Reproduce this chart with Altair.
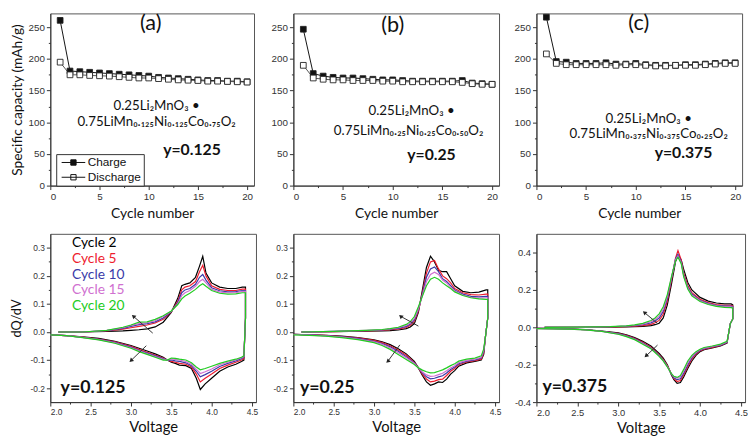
import altair as alt
import pandas as pd

FONT = "Lato"
TICKFONT = "Liberation Sans"

# ---------------- top row: capacity vs cycle ----------------
cycles = list(range(1, 21))
a_charge = [261, 181, 180, 179, 178, 177, 176, 175, 174, 173, 171, 170, 169, 168, 167, 166, 166, 165, 165, 164]
a_discharge = [195, 175, 175, 174, 173.5, 173, 172, 171, 170, 170, 169, 168, 167, 166.5, 166, 165, 165, 164.5, 164, 163.5]
b_charge = [247, 177, 173, 171, 170, 170, 169, 168, 167, 167, 166, 165, 165, 165, 165, 165, 166, 162, 161, 160]
b_discharge = [190, 170, 168, 167, 167, 166, 166, 166, 165, 165, 164, 164, 164, 164, 164, 164, 163, 161, 160, 160]
c_charge = [266, 196, 195, 193, 193, 193, 194, 192, 192, 193, 191, 190, 190, 190, 191, 191, 192, 193, 194, 194]
c_discharge = [208, 193, 191, 191, 191, 191, 191, 190, 191, 191, 190, 189, 189, 190, 190, 190, 191, 192, 193, 193]
series_names = ["Charge", "Discharge"]
series_line_colors = ["#111111", "#555555"]
series_fill_colors = ["#111111", "#ffffff"]

formula_1 = "0.25Li₂MnO₃ •"
formula_a = "0.75LiMn₀.₁₂₅Ni₀.₁₂₅Co₀.₇₅O₂"
formula_b = "0.75LiMn₀.₂₅Ni₀.₂₅Co₀.₅₀O₂"
formula_c = "0.75LiMn₀.₃₇₅Ni₀.₃₇₅Co₀.₂₅O₂"

top_x_major = [0, 5, 10, 15, 20]
top_x_minor = [2.5, 7.5, 12.5, 17.5]
top_y_major = [0, 50, 100, 150, 200, 250]
top_y_minor = [25, 75, 125, 175, 225]

# ---------------- bottom row: dQ/dV vs voltage ----------------
cycle_names = ["Cycle 2", "Cycle 5", "Cycle 10", "Cycle 15", "Cycle 20"]
cycle_colors = ["#000000", "#ee1c2e", "#3a3aa8", "#d070d0", "#22cc22"]

v_major = [2.0, 2.5, 3.0, 3.5, 4.0, 4.5]
v_minor = [2.25, 2.75, 3.25, 3.75, 4.25]
de_y_major = [-0.2, -0.1, 0.0, 0.1, 0.2, 0.3]
de_y_minor = [-0.15, -0.05, 0.05, 0.15, 0.25]
f_y_major = [-0.4, -0.2, 0.0, 0.2, 0.4]
f_y_minor = [-0.3, -0.1, 0.1, 0.3]

d_chg_v = [2.1, 2.4, 2.7, 2.9, 3.0, 3.1, 3.2, 3.3, 3.4, 3.5, 3.58, 3.63, 3.67, 3.73, 3.8, 3.85, 3.89, 3.93, 4.0, 4.1, 4.2, 4.3, 4.38, 4.42, 4.42]
d_chg = {
    "Cycle 2": [0, 0, 0.002, 0.004, 0.006, 0.008, 0.011, 0.018, 0.035, 0.07, 0.12, 0.165, 0.17, 0.175, 0.195, 0.235, 0.27, 0.21, 0.175, 0.16, 0.155, 0.155, 0.16, 0.16, 0.05],
    "Cycle 5": [0, 0, 0.004, 0.01, 0.015, 0.02, 0.025, 0.032, 0.045, 0.072, 0.11, 0.15, 0.16, 0.165, 0.18, 0.215, 0.238, 0.2, 0.165, 0.152, 0.148, 0.148, 0.153, 0.153, 0.05],
    "Cycle 10": [0, 0, 0.005, 0.013, 0.02, 0.026, 0.03, 0.036, 0.05, 0.073, 0.105, 0.14, 0.15, 0.155, 0.17, 0.195, 0.205, 0.185, 0.158, 0.147, 0.143, 0.144, 0.148, 0.148, 0.05],
    "Cycle 15": [0, 0, 0.006, 0.015, 0.023, 0.03, 0.033, 0.04, 0.055, 0.074, 0.1, 0.13, 0.14, 0.148, 0.163, 0.18, 0.188, 0.175, 0.152, 0.142, 0.14, 0.14, 0.145, 0.145, 0.05],
    "Cycle 20": [0, 0, 0.006, 0.017, 0.025, 0.035, 0.036, 0.045, 0.058, 0.075, 0.098, 0.118, 0.128, 0.138, 0.152, 0.165, 0.172, 0.163, 0.148, 0.138, 0.135, 0.136, 0.14, 0.14, 0.05],
}
d_dis_v = [4.41, 4.40, 4.37, 4.3, 4.2, 4.1, 4.0, 3.92, 3.86, 3.81, 3.75, 3.68, 3.6, 3.55, 3.5, 3.45, 3.4, 3.3, 3.2, 3.1, 3.0, 2.8, 2.6, 2.4, 2.2, 2.0]
d_dis = {
    "Cycle 2": [-0.02, -0.1, -0.105, -0.115, -0.125, -0.14, -0.165, -0.185, -0.205, -0.165, -0.13, -0.12, -0.118, -0.112, -0.108, -0.1, -0.09, -0.078, -0.068, -0.058, -0.048, -0.033, -0.023, -0.017, -0.013, -0.01],
    "Cycle 5": [-0.02, -0.095, -0.1, -0.108, -0.118, -0.13, -0.15, -0.165, -0.178, -0.15, -0.125, -0.115, -0.112, -0.108, -0.105, -0.1, -0.093, -0.082, -0.072, -0.062, -0.051, -0.035, -0.025, -0.018, -0.013, -0.01],
    "Cycle 10": [-0.02, -0.09, -0.095, -0.103, -0.112, -0.123, -0.14, -0.152, -0.16, -0.14, -0.12, -0.11, -0.105, -0.103, -0.1, -0.1, -0.095, -0.085, -0.075, -0.065, -0.054, -0.037, -0.026, -0.019, -0.013, -0.01],
    "Cycle 15": [-0.02, -0.088, -0.092, -0.1, -0.108, -0.117, -0.132, -0.142, -0.148, -0.133, -0.115, -0.105, -0.1, -0.098, -0.096, -0.1, -0.097, -0.088, -0.078, -0.067, -0.056, -0.039, -0.027, -0.019, -0.013, -0.01],
    "Cycle 20": [-0.02, -0.085, -0.09, -0.097, -0.104, -0.112, -0.122, -0.13, -0.135, -0.125, -0.11, -0.1, -0.097, -0.094, -0.093, -0.1, -0.1, -0.09, -0.08, -0.07, -0.058, -0.04, -0.028, -0.02, -0.013, -0.01],
}

e_chg_v = [2.1, 2.5, 2.9, 3.1, 3.2, 3.3, 3.4, 3.45, 3.5, 3.55, 3.6, 3.65, 3.7, 3.75, 3.8, 3.85, 3.9, 3.95, 4.0, 4.1, 4.2, 4.3, 4.39, 4.41, 4.41]
e_chg = {
    "Cycle 2": [0, 0.001, 0.003, 0.004, 0.005, 0.007, 0.012, 0.018, 0.03, 0.07, 0.15, 0.23, 0.27, 0.25, 0.22, 0.215, 0.215, 0.19, 0.165, 0.145, 0.14, 0.142, 0.15, 0.15, 0.05],
    "Cycle 5": [0, 0.001, 0.004, 0.006, 0.008, 0.01, 0.016, 0.024, 0.038, 0.075, 0.14, 0.21, 0.25, 0.255, 0.225, 0.2, 0.19, 0.175, 0.155, 0.14, 0.133, 0.132, 0.135, 0.135, 0.05],
    "Cycle 10": [0, 0.002, 0.005, 0.007, 0.01, 0.013, 0.02, 0.028, 0.043, 0.08, 0.135, 0.195, 0.225, 0.232, 0.215, 0.19, 0.18, 0.165, 0.15, 0.135, 0.127, 0.125, 0.127, 0.127, 0.05],
    "Cycle 15": [0, 0.002, 0.006, 0.008, 0.011, 0.015, 0.023, 0.032, 0.048, 0.083, 0.13, 0.18, 0.205, 0.213, 0.205, 0.185, 0.175, 0.16, 0.147, 0.132, 0.124, 0.121, 0.122, 0.122, 0.05],
    "Cycle 20": [0, 0.002, 0.006, 0.009, 0.012, 0.017, 0.027, 0.037, 0.055, 0.09, 0.128, 0.165, 0.188, 0.195, 0.188, 0.175, 0.165, 0.155, 0.143, 0.13, 0.122, 0.118, 0.116, 0.116, 0.05],
}
e_dis_v = [4.38, 4.36, 4.33, 4.25, 4.15, 4.05, 4.0, 3.95, 3.9, 3.85, 3.8, 3.75, 3.7, 3.65, 3.6, 3.55, 3.5, 3.4, 3.3, 3.2, 3.1, 3.0, 2.8, 2.6, 2.4, 2.2, 2.0]
e_dis = {
    "Cycle 2": [-0.02, -0.08, -0.1, -0.105, -0.11, -0.122, -0.138, -0.15, -0.168, -0.18, -0.178, -0.185, -0.19, -0.178, -0.155, -0.128, -0.105, -0.078, -0.06, -0.045, -0.035, -0.028, -0.02, -0.015, -0.012, -0.01, -0.008],
    "Cycle 5": [-0.02, -0.075, -0.097, -0.102, -0.107, -0.117, -0.13, -0.14, -0.155, -0.168, -0.17, -0.175, -0.178, -0.168, -0.15, -0.128, -0.108, -0.083, -0.064, -0.049, -0.038, -0.03, -0.021, -0.016, -0.012, -0.01, -0.008],
    "Cycle 10": [-0.02, -0.07, -0.093, -0.1, -0.104, -0.113, -0.125, -0.134, -0.146, -0.156, -0.16, -0.165, -0.167, -0.16, -0.146, -0.128, -0.11, -0.088, -0.069, -0.053, -0.041, -0.033, -0.023, -0.017, -0.013, -0.01, -0.008],
    "Cycle 15": [-0.02, -0.065, -0.09, -0.097, -0.101, -0.109, -0.12, -0.128, -0.138, -0.147, -0.152, -0.157, -0.158, -0.153, -0.143, -0.128, -0.112, -0.092, -0.074, -0.057, -0.044, -0.035, -0.025, -0.018, -0.014, -0.011, -0.009],
    "Cycle 20": [-0.02, -0.06, -0.085, -0.093, -0.097, -0.104, -0.113, -0.12, -0.128, -0.135, -0.14, -0.145, -0.146, -0.142, -0.136, -0.128, -0.116, -0.098, -0.08, -0.062, -0.048, -0.038, -0.027, -0.02, -0.015, -0.012, -0.01],
}

f_chg_v = [2.1, 2.5, 2.9, 3.1, 3.2, 3.3, 3.4, 3.45, 3.5, 3.55, 3.6, 3.65, 3.7, 3.73, 3.77, 3.8, 3.85, 3.9, 4.0, 4.1, 4.2, 4.3, 4.38, 4.40, 4.40]
f_chg = {
    "Cycle 2": [0, 0, 0.001, 0.002, 0.003, 0.005, 0.009, 0.014, 0.022, 0.05, 0.12, 0.23, 0.35, 0.385, 0.36, 0.31, 0.24, 0.2, 0.16, 0.14, 0.13, 0.125, 0.125, 0.12, 0.045],
    "Cycle 5": [0, 0, 0.002, 0.004, 0.006, 0.009, 0.016, 0.024, 0.037, 0.07, 0.14, 0.25, 0.37, 0.41, 0.36, 0.29, 0.225, 0.185, 0.15, 0.132, 0.122, 0.118, 0.118, 0.115, 0.045],
    "Cycle 10": [0, 0, 0.003, 0.006, 0.009, 0.014, 0.024, 0.034, 0.05, 0.085, 0.155, 0.26, 0.365, 0.39, 0.35, 0.28, 0.215, 0.178, 0.145, 0.128, 0.118, 0.113, 0.113, 0.11, 0.045],
    "Cycle 15": [0, 0, 0.003, 0.007, 0.011, 0.017, 0.03, 0.042, 0.06, 0.097, 0.165, 0.265, 0.36, 0.383, 0.345, 0.275, 0.21, 0.173, 0.142, 0.125, 0.115, 0.11, 0.109, 0.107, 0.045],
    "Cycle 20": [0, 0.001, 0.004, 0.008, 0.013, 0.021, 0.036, 0.05, 0.072, 0.11, 0.175, 0.27, 0.355, 0.375, 0.34, 0.27, 0.205, 0.168, 0.138, 0.122, 0.112, 0.107, 0.105, 0.103, 0.045],
}
f_dis_v = [4.37, 4.35, 4.33, 4.25, 4.15, 4.05, 4.0, 3.95, 3.9, 3.85, 3.8, 3.76, 3.72, 3.68, 3.65, 3.6, 3.55, 3.5, 3.45, 3.4, 3.3, 3.2, 3.1, 3.0, 2.8, 2.6, 2.4, 2.2, 2.0]
f_dis = {
    "Cycle 2": [0.02, -0.03, -0.085, -0.1, -0.11, -0.12, -0.13, -0.15, -0.18, -0.22, -0.265, -0.295, -0.3, -0.28, -0.255, -0.2, -0.165, -0.14, -0.12, -0.1, -0.075, -0.055, -0.04, -0.03, -0.02, -0.012, -0.008, -0.006, -0.005],
    "Cycle 5": [0.02, -0.03, -0.082, -0.097, -0.107, -0.117, -0.126, -0.143, -0.17, -0.21, -0.255, -0.285, -0.29, -0.275, -0.25, -0.205, -0.172, -0.147, -0.126, -0.106, -0.08, -0.059, -0.043, -0.032, -0.021, -0.013, -0.009, -0.007, -0.006],
    "Cycle 10": [0.02, -0.03, -0.08, -0.095, -0.104, -0.114, -0.123, -0.138, -0.162, -0.2, -0.245, -0.275, -0.28, -0.27, -0.25, -0.208, -0.176, -0.151, -0.13, -0.11, -0.084, -0.062, -0.046, -0.034, -0.021, -0.013, -0.009, -0.007, -0.006],
    "Cycle 15": [0.02, -0.03, -0.078, -0.093, -0.102, -0.111, -0.12, -0.134, -0.156, -0.19, -0.235, -0.265, -0.272, -0.265, -0.248, -0.21, -0.178, -0.153, -0.133, -0.113, -0.087, -0.064, -0.048, -0.036, -0.022, -0.014, -0.01, -0.008, -0.007],
    "Cycle 20": [0.02, -0.03, -0.075, -0.09, -0.1, -0.108, -0.117, -0.13, -0.15, -0.18, -0.225, -0.258, -0.268, -0.262, -0.248, -0.212, -0.18, -0.155, -0.135, -0.115, -0.09, -0.066, -0.05, -0.037, -0.022, -0.014, -0.01, -0.008, -0.007],
}

# arrows (head V, head dQ/dV, tail V, tail dQ/dV)
d_arrows_up = [3.03, 0.056, 3.27, -0.004]
d_arrows_dn = [3.00, -0.102, 3.19, -0.049]
e_arrows_up = [3.33, 0.056, 3.55, 0.021]
e_arrows_dn = [3.17, -0.105, 3.32, -0.046]
f_arrows_up = [3.32, 0.079, 3.48, 0.021]
f_arrows_dn = [3.34, -0.153, 3.48, -0.095]

MINUS_FIX = "replace(format(datum.value, '.1f'), '\u2212', '-')"


def minor_layer(df, xfield, yfield, xscale, yscale, xminor, yminor):
    return alt.Chart(df).mark_point(opacity=0, size=1).encode(
        x=alt.X(xfield, scale=xscale, axis=alt.Axis(values=xminor, labels=False, domain=False, tickSize=2,
                                                    title=None, orient="bottom")),
        y=alt.Y(yfield, scale=yscale, axis=alt.Axis(values=yminor, labels=False, domain=False, tickSize=2,
                                                    title=None, orient="left")),
    )


def top_panel(charge, discharge, tag, line2, ylabel, pos, width, show_legend, show_ytitle):
    rows = []
    for name, vals in zip(series_names, [charge, discharge]):
        for c, v in zip(cycles, vals):
            rows.append({"Cycle": c, "Capacity": v, "Series": name})
    df = pd.DataFrame(rows)
    xscale = alt.Scale(domain=[0, 20.7], nice=False, zero=False)
    yscale = alt.Scale(domain=[0, 272], nice=False)
    xenc = alt.X("Cycle:Q", scale=xscale,
                 axis=alt.Axis(values=top_x_major, title="Cycle number", labelFontSize=10,
                               titleFontSize=14, titlePadding=5))
    if show_ytitle:
        yaxis = alt.Axis(values=top_y_major, title="Specific capacity (mAh/g)", labelFontSize=10,
                         titleFontSize=14, titleX=-26)
    else:
        yaxis = alt.Axis(values=top_y_major, title=None, labelFontSize=10)
    yenc = alt.Y("Capacity:Q", scale=yscale, axis=yaxis)
    base = alt.Chart(df)
    layers = []
    for name, col in zip(series_names, series_line_colors):
        layers.append(base.transform_filter(alt.datum.Series == name).mark_line(strokeWidth=1, color=col).encode(
            x=xenc, y=yenc))
    if show_legend:
        leg = alt.Legend(title=None, orient="none", legendX=6, legendY=143, direction="vertical",
                         symbolType="M-2,0H2M-0.45,-0.45H0.45V0.45H-0.45Z", symbolSize=144,
                         symbolOffset=9, symbolStrokeColor="#111111", symbolStrokeWidth=1,
                         labelFont=TICKFONT, labelFontSize=12, labelColor="#111111",
                         strokeColor="#333333", fillColor="white", padding=2, rowPadding=2, labelOffset=8)
    else:
        leg = None
    points = base.mark_point(shape="square", filled=True, size=34, stroke="#222222",
                             strokeWidth=0.9, opacity=1).encode(
        x=xenc, y=yenc,
        fill=alt.Fill("Series:N", scale=alt.Scale(domain=series_names, range=series_fill_colors), legend=leg),
    )
    layers.append(points)
    texts = [
        (tag, pos[0], 22, "normal"),
        (formula_1, pos[1], 13.5, "normal"),
        (line2, pos[2], 13.5, "normal"),
        (ylabel, pos[3], 16, "bold"),
    ]
    for txt, (cx, cy), size, weight in texts:
        tdf = pd.DataFrame({"Cycle": [cx], "Capacity": [cy], "label": [txt]})
        layers.append(alt.Chart(tdf).mark_text(font=FONT, fontSize=size, fontWeight=weight,
                                               color="#111111", baseline="middle").encode(
            x=xenc, y=yenc, text="label:N"))
    main = alt.layer(*layers)
    minor = minor_layer(df, "Cycle:Q", "Capacity:Q", xscale, yscale, top_x_minor, top_y_minor)
    return alt.layer(main, minor).resolve_axis(x="independent", y="independent").properties(width=width, height=175)


def bottom_panel(chg_v, chg, dis_v, dis, ydomain, yvalues, yminor, ylabel, ylabel_pos, arrows_up, arrows_dn,
                 width, show_legend, show_ytitle, labsize):
    rows = []
    for name in cycle_names:
        k = 0
        for i, v in enumerate(chg_v):
            rows.append({"Voltage": v, "dQdV": chg[name][i], "Cycle": name, "k": k})
            k += 1
        for i, v in enumerate(dis_v):
            rows.append({"Voltage": v, "dQdV": dis[name][i], "Cycle": name, "k": k})
            k += 1
    df = pd.DataFrame(rows)
    xscale = alt.Scale(domain=[2.0, 4.55], nice=False, zero=False)
    yscale = alt.Scale(domain=ydomain, nice=False, zero=False)
    xenc = alt.X("Voltage:Q", scale=xscale,
                 axis=alt.Axis(values=v_major, format=".1f", title="Voltage",
                               labelFontSize=labsize, titleFontSize=15, titlePadding=3))
    if show_ytitle:
        yaxis = alt.Axis(values=yvalues, labelExpr=MINUS_FIX, title="dQ/dV", labelFontSize=labsize,
                         titleFontSize=13, titleX=-27)
    else:
        yaxis = alt.Axis(values=yvalues, labelExpr=MINUS_FIX, title=None, labelFontSize=labsize)
    yenc = alt.Y("dQdV:Q", scale=yscale, axis=yaxis)
    if show_legend:
        leg = alt.Legend(title=None, orient="none", legendX=8, legendY=2, direction="vertical",
                         symbolSize=0, symbolOpacity=0, labelOffset=0, labelFont=FONT, labelFontSize=14,
                         rowPadding=2.2,
                         labelColor={"expr": "datum.value == 'Cycle 2' ? '#000000' : datum.value == 'Cycle 5' ? '#ee1c2e' : datum.value == 'Cycle 10' ? '#3a3aa8' : datum.value == 'Cycle 15' ? '#d070d0' : '#22cc22'"})
    else:
        leg = None
    lines = alt.Chart(df).mark_line(strokeWidth=1.2).encode(
        x=xenc, y=yenc, order="k:Q",
        color=alt.Color("Cycle:N", scale=alt.Scale(domain=cycle_names, range=cycle_colors), sort=cycle_names,
                        legend=leg),
    )
    layers = [lines]
    for arr, ang in [(arrows_up, 311), (arrows_dn, 227)]:
        adf = pd.DataFrame({"Voltage": [arr[0]], "dQdV": [arr[1]], "V2": [arr[2]], "Q2": [arr[3]]})
        layers.append(alt.Chart(adf).mark_rule(color="#333333", strokeWidth=1).encode(
            x=xenc, y=yenc, x2="V2:Q", y2="Q2:Q"))
        layers.append(alt.Chart(adf).mark_point(shape="triangle-up", filled=True, size=22,
                                                color="#222222", angle=ang, opacity=1).encode(x=xenc, y=yenc))
    tdf = pd.DataFrame({"Voltage": [ylabel_pos[0]], "dQdV": [ylabel_pos[1]], "label": [ylabel]})
    layers.append(alt.Chart(tdf).mark_text(font=FONT, fontSize=18, fontWeight="bold", color="#111111",
                                           baseline="middle").encode(x=xenc, y=yenc, text="label:N"))
    main = alt.layer(*layers)
    minor = minor_layer(df, "Voltage:Q", "dQdV:Q", xscale, yscale, v_minor, yminor)
    return alt.layer(main, minor).resolve_axis(x="independent", y="independent").properties(width=width, height=171)


pa = top_panel(a_charge, a_discharge, "(a)", formula_a, "y=0.125",
               [(10.2, 257), (10.8, 125), (10.8, 101), (14.4, 56)], 207, True, True)
pb = top_panel(b_charge, b_discharge, "(b)", formula_b, "y=0.25",
               [(10.0, 254), (11.9, 118), (11.6, 86), (13.9, 49)], 209, False, False)
pc = top_panel(c_charge, c_discharge, "(c)", formula_c, "y=0.375",
               [(10.3, 257), (11.3, 105), (11.3, 81), (14.8, 51)], 209, False, False)

pd_ = bottom_panel(d_chg_v, d_chg, d_dis_v, d_dis, [-0.25, 0.35], de_y_major, de_y_minor,
                   "y=0.125", (2.53, -0.2), d_arrows_up, d_arrows_dn, 209, True, True, 8.5)
pe = bottom_panel(e_chg_v, e_chg, e_dis_v, e_dis, [-0.25, 0.35], de_y_major, de_y_minor,
                  "y=0.25", (2.42, -0.2), e_arrows_up, e_arrows_dn, 209, False, False, 8.5)
pf = bottom_panel(f_chg_v, f_chg, f_dis_v, f_dis, [-0.4, 0.5], f_y_major, f_y_minor,
                  "y=0.375", (2.47, -0.32), f_arrows_up, f_arrows_dn, 212, False, False, 9.5)

chart = alt.concat(pa, pb, pc, pd_, pe, pf, columns=3, spacing={"row": 49, "column": 38},
                   bounds="flush").resolve_scale(
    color="independent", fill="independent"
).resolve_legend(color="independent", fill="independent").properties(
    padding={"left": 2, "top": 0, "right": 0, "bottom": 0}
).configure_view(stroke="#555555", strokeWidth=1).configure_axis(
    labelFont=TICKFONT, labelColor="#333333", domainColor="#333333", tickColor="#333333",
    tickSize=4, labelPadding=2, titleFont=FONT, titleFontWeight="normal", titleColor="#111111", grid=False
)

chart.save("out.html", embed_options={"renderer": "svg", "actions": False})
